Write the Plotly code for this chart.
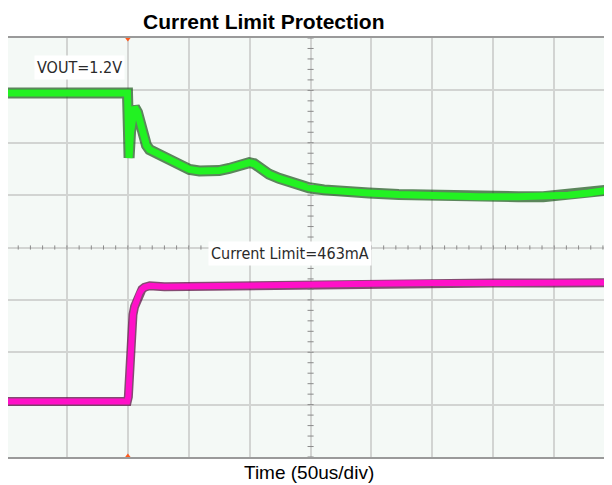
import plotly.graph_objects as go

# Time axis in microseconds (50 us/div), trigger at t=0; vertical in scope divisions (0..8)
vout_t = [-100, -60, -20, -0.3, 0.4, 1.0, 2.2, 3.8, 5.5, 7.9, 10.4, 12.8, 15.3, 17.8, 25.9, 34.1,
          42.3, 50.5, 58.7, 66.9, 75.0, 83.2, 91.4, 99.6, 103.7, 107.8, 115.9, 124.1, 132.3, 140.5,
          148.7, 161, 173.2, 197.8, 222.3, 255, 287.8, 320.5, 341, 361.5, 377.9, 396]
vout_div = [6.95, 6.96, 6.95, 6.95, 6.3, 5.71, 6.2, 6.55, 6.68, 6.58, 6.35, 6.1, 5.95, 5.87, 5.78, 5.67,
            5.57, 5.49, 5.46, 5.45, 5.47, 5.51, 5.57, 5.62, 5.60, 5.53, 5.40, 5.32, 5.26, 5.19,
            5.14, 5.10, 5.07, 5.04, 5.01, 4.98, 4.97, 4.97, 4.97, 5.00, 5.04, 5.10]

ilim_t = [-100, -50, -0.5, 0.4, 1.4, 2.2, 3.0, 4.2, 5.5, 7.5, 9.6, 11.6, 13.7, 18, 30, 60, 100, 150,
          200, 250, 300, 350, 396]
ilim_div = [1.06, 1.06, 1.06, 1.15, 1.67, 2.15, 2.49, 2.72, 2.87, 3.02, 3.13, 3.2, 3.24, 3.27, 3.25,
            3.26, 3.28, 3.30, 3.31, 3.32, 3.32, 3.32, 3.33]

title_text = "Current Limit Protection"
xlabel_text = "Time (50us/div)"
vout_label = "VOUT=1.2V"
ilim_label = "Current Limit=463mA"

fig = go.Figure()
fig.add_trace(go.Scatter(x=vout_t, y=vout_div, mode="lines",
                         line=dict(color="rgba(25,85,25,0.7)", width=11), hoverinfo="skip"))
fig.add_trace(go.Scatter(x=vout_t, y=vout_div, mode="lines",
                         line=dict(color="#22f222", width=7), hoverinfo="skip"))
fig.add_trace(go.Scatter(x=ilim_t, y=ilim_div, mode="lines",
                         line=dict(color="rgba(95,15,70,0.75)", width=9), hoverinfo="skip"))
fig.add_trace(go.Scatter(x=ilim_t, y=ilim_div, mode="lines",
                         line=dict(color="#ff10c8", width=6), hoverinfo="skip"))

# trigger markers
fig.add_trace(go.Scatter(x=[0, 0], y=[8, 0], mode="markers", cliponaxis=False,
                         marker=dict(symbol=["triangle-down", "triangle-up"], size=7,
                                     color="#ff5a1e"), hoverinfo="skip"))

shapes = []
# minor ticks along center lines
for i in range(41):
    yv = i * 0.2
    shapes.append(dict(type="line", xref="x", yref="y", x0=147.5, x1=152.5, y0=yv, y1=yv,
                       line=dict(color="#8a8a8a", width=1)))
for i in range(51):
    xv = -100 + i * 10
    shapes.append(dict(type="line", xref="x", yref="y", x0=xv, x1=xv, y0=3.96, y1=4.04,
                       line=dict(color="#8a8a8a", width=1)))
fig.update_layout(shapes=shapes)

fig.add_annotation(x=-39.5, y=7.43, xref="x", yref="y", text=vout_label, showarrow=False,
                   bgcolor="white", font=dict(family="DejaVu Sans Condensed, DejaVu Sans", size=16, color="#2a2a2a"),
                   borderpad=2)
fig.add_annotation(x=132.7, y=3.88, xref="x", yref="y", text=ilim_label, showarrow=False,
                   bgcolor="white", font=dict(family="DejaVu Sans Condensed, DejaVu Sans", size=16, color="#2a2a2a"),
                   borderpad=2)
fig.add_annotation(x=0.4255, y=1.0, xref="paper", yref="paper", yshift=17, text="<b>" + title_text + "</b>",
                   showarrow=False, font=dict(family="Liberation Sans, Arial", size=21, color="black"),
                   xanchor="center", yanchor="middle", borderpad=0)
fig.add_annotation(x=0.5, y=0, xref="paper", yref="paper", yshift=-15, text=xlabel_text,
                   showarrow=False, font=dict(family="Liberation Sans, Arial", size=19, color="black"),
                   xanchor="center", yanchor="middle")

fig.update_layout(
    width=604, height=477,
    margin=dict(l=0, r=0, t=30, b=28),
    paper_bgcolor="white", plot_bgcolor="#f4f9f6",
    showlegend=False,
    xaxis=dict(range=[-98.4, 395.8], dtick=50, tick0=0, showticklabels=False, ticks="",
               showgrid=True, gridcolor="#d2d4d2", gridwidth=2, zeroline=False,
               showline=True, linecolor="#9a9a9a", linewidth=2, mirror=True, fixedrange=True),
    yaxis=dict(range=[0, 8], dtick=1, tick0=0, showticklabels=False, ticks="",
               showgrid=True, gridcolor="#d2d4d2", gridwidth=2, zeroline=False,
               showline=True, linecolor="#9a9a9a", linewidth=2, mirror=True, fixedrange=True),
)

fig.write_html("out.html")
